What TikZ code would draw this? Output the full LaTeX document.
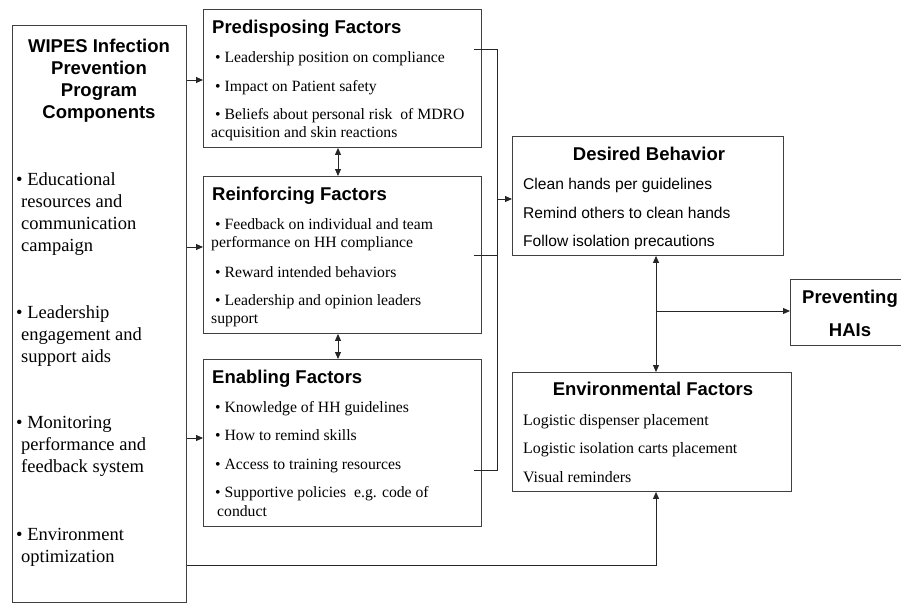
\documentclass[tikz,border=0pt]{standalone}
\usepackage{fontspec}
\setmainfont{Liberation Serif}
\setsansfont{Liberation Sans}
\usetikzlibrary{arrows.meta}

\tikzset{
  box/.style={draw=black!75, line width=0.9pt, rectangle, anchor=north west, inner sep=0pt},
  head/.style={font=\sffamily\bfseries\fontsize{18.5}{22}\selectfont, inner sep=0pt},
  item/.style={font=\fontsize{15.7}{18}\selectfont, anchor=base west, inner sep=0pt},
  sitem/.style={font=\sffamily\fontsize{15.6}{18}\selectfont, anchor=base west, inner sep=0pt},
  big/.style={font=\fontsize{18.5}{22}\selectfont, anchor=base west, inner sep=0pt},
  link/.style={draw=black!85, line width=0.9pt},
  arr/.style={-{Triangle[length=7pt,width=6pt]}},
  dblarr/.style={{Triangle[length=7pt,width=6pt]}-{Triangle[length=7pt,width=6pt]}},
}

\begin{document}
\begin{tikzpicture}[x=1pt, y=-1pt]
\useasboundingbox (0,0) rectangle (901,603);

% boxes
\node[box, minimum width=174, minimum height=577] (wipes) at (12,25) {};
\node[box, minimum width=278, minimum height=138] (pre) at (203,9) {};
\node[box, minimum width=278, minimum height=157] (rei) at (203,176) {};
\node[box, minimum width=278, minimum height=167] (ena) at (203,359) {};
\node[box, minimum width=271, minimum height=119] (des) at (512,136) {};
\node[box, minimum width=279, minimum height=119] (env) at (512,372) {};
\node[box, minimum width=130, minimum height=66] (prv) at (790,279) {};

% program components
\foreach \y/\t [count=\i] in {52/WIPES Infection, 74/Prevention, 96/Program, 118/Components}
  \node[head, anchor=base] (wt\i) at (99,\y) {\t};
\foreach \x/\y/\t [count=\i] in {16/185/{• Educational}, 21/207/{resources and}, 21/229/{communication}, 21/251/{campaign},
    16/318/{• Leadership}, 21/340/{engagement and}, 21/362/{support aids},
    16/428/{• Monitoring}, 21/450/{performance and}, 21/472/{feedback system},
    16/540/{• Environment}, 21/562/{optimization}}
  \node[big] (wi\i) at (\x,\y) {\t};

% factor boxes
\node[head, anchor=base west] (pret) at (212,33) {Predisposing Factors};
\foreach \x/\y/\t [count=\i] in {215/62/{• Leadership position on compliance}, 215/91/{• Impact on Patient safety},
    215/119/{• Beliefs about personal risk \ of MDRO}, 211/137/{acquisition and skin reactions}}
  \node[item] (pri\i) at (\x,\y) {\t};

\node[head, anchor=base west] (reit) at (212,200) {Reinforcing Factors};
\foreach \x/\y/\t [count=\i] in {215/229/{• Feedback on individual and team}, 211/247/{performance on HH compliance},
    215/277/{• Reward intended behaviors}, 215/305/{• Leadership and opinion leaders}, 211/323/{support}}
  \node[item] (rii\i) at (\x,\y) {\t};

\node[head, anchor=base west] (enat) at (212,383) {Enabling Factors};
\foreach \x/\y/\t [count=\i] in {215/412/{• Knowledge of HH guidelines}, 215/440/{• How to remind skills},
    215/469/{• Access to training resources}, 215/497/{• Supportive policies \ e.g. code of}, 217/516/{conduct}}
  \node[item] (eni\i) at (\x,\y) {\t};

% outcome boxes
\node[head, anchor=base] (dest) at (649,160) {Desired Behavior};
\foreach \y/\t [count=\i] in {189/Clean hands per guidelines, 218/Remind others to clean hands, 246/Follow isolation precautions}
  \node[sitem] (dei\i) at (523,\y) {\t};

\node[head, anchor=base] (envt) at (653,395) {Environmental Factors};
\foreach \y/\t [count=\i] in {425/Logistic dispenser placement, 453/Logistic isolation carts placement, 482/Visual reminders}
  \node[item, font=\fontsize{15.9}{18}\selectfont] (evi\i) at (523,\y) {\t};

\node[head, anchor=base] (prt1) at (850,303) {Preventing};
\node[head, anchor=base] (prt2) at (850,336) {HAIs};

% connectors
\draw[link, arr] (wipes.east |- 0,80) -- (pre.west |- 0,80);
\draw[link, arr] (wipes.east |- 0,247) -- (rei.west |- 0,247);
\draw[link, arr] (wipes.east |- 0,438) -- (ena.west |- 0,438);
\draw[link, dblarr] (pre.south -| 338,0) -- (rei.north -| 338,0);
\draw[link, dblarr] (rei.south -| 338,0) -- (ena.north -| 338,0);

\coordinate (bt) at (497,49);
\coordinate (bm) at (497,199);
\coordinate (bb) at (497,470);
\draw[link] ([xshift=-8]pre.east |- bt) -- (bt) -- (bb) -- ([xshift=-8]ena.east |- bb);
\draw[link] ([xshift=-8]rei.east |- 0,255) -- (bt |- 0,255);
\draw[link, arr] (bm) -- (des.west |- bm);

\coordinate (split) at (656,311);
\draw[link, dblarr] (des.south -| split) -- (env.north -| split);
\draw[link, arr] (split) -- (prv.west |- split);
\draw[link, arr] (wipes.east |- 0,565) -| (env.south -| split);
\end{tikzpicture}
\end{document}
